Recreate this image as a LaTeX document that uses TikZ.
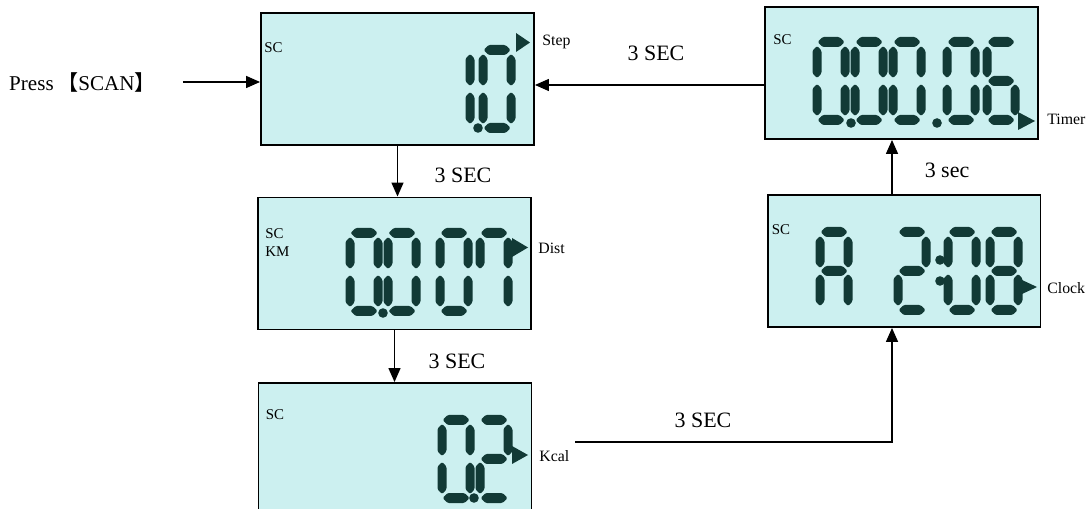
\documentclass[tikz,border=0pt]{standalone}
\usepackage{fontspec}
\setmainfont{Liberation Serif}
\newfontfamily\cjk{Noto Sans CJK SC}
\usetikzlibrary{positioning, arrows.meta}

\definecolor{lcdbg}{RGB}{204,240,240}
\definecolor{lcdon}{RGB}{18,58,54}

% one segment: horizontal (x1,x2,y) and vertical (x,y1,y2)
\newcommand{\lcdh}[3]{\fill[lcdon, rounded corners=0.8pt] (#1,#3) -- (#1+5,#3-5) -- (#2-5,#3-5) -- (#2,#3) -- (#2-5,#3+5) -- (#1+5,#3+5) -- cycle;}
\newcommand{\lcdv}[3]{\fill[lcdon, rounded corners=0.8pt] (#1,#2) -- (#1+4.5,#2+4.5) -- (#1+4.5,#3-4.5) -- (#1,#3) -- (#1-4.5,#3-4.5) -- (#1-4.5,#2+4.5) -- cycle;}
\newcommand{\lcdsega}{\lcdh{0.5}{27.5}{0}}
\newcommand{\lcdsegb}{\lcdv{28}{4}{36}}
\newcommand{\lcdsegc}{\lcdv{28}{42}{74}}
\newcommand{\lcdsegd}{\lcdh{0.5}{27.5}{78}}
\newcommand{\lcdsege}{\lcdv{0}{42}{74}}
\newcommand{\lcdsegf}{\lcdv{0}{4}{36}}
\newcommand{\lcdsegg}{\lcdh{0.5}{27.5}{39}}
% digit with its top left corner at (x,y)
\newcommand{\lcddigit}[3]{\begin{scope}[shift={(#1,#2)}]\foreach \s in {#3}{\csname lcdseg\s\endcsname}\end{scope}}
\newcommand{\lcddot}[2]{\fill[lcdon] (#1,#2) circle (4.8);}

\begin{document}
\begin{tikzpicture}[
    x=0.02cm, y=-0.02cm,
    >={Triangle[length=0.28cm, width=0.24cm]},
    lcdbox/.style={
        draw,
        line width=1.1pt,
        fill=lcdbg,
        minimum width=5.46cm,
        minimum height=2.64cm,
        inner sep=0pt
    },
    flow/.style={->, line width=0.8pt},
    delay/.style={font=\fontsize{12.5}{14}\selectfont},
    mode/.style={font=\fontsize{9}{10}\selectfont, anchor=west, inner sep=0pt},
    tag/.style={font=\fontsize{8.5}{10}\selectfont, anchor=west, inner sep=0pt, align=left}
]
\useasboundingbox (0,0) rectangle (1088,509);

% displays
\node[lcdbox] (step) at (397.5,79) {};
\node[lcdbox] (dist) at (394.5,263.5) {};
\node[lcdbox] (kcal) at (395,449) {};
\node[lcdbox] (timer) at (901.5,73) {};
\node[lcdbox] (clock) at (904,261) {};

% texts inside the displays
\node[tag] (stepsc) at ([shift={(4,36)}]step.north west) {SC};
\node[tag] (distsc) at ([shift={(8,46)}]dist.north west) {SC\\KM};
\node[tag] (kcalsc) at ([shift={(8,33)}]kcal.north west) {SC};
\node[tag] (timersc) at ([shift={(9,34)}]timer.north west) {SC};
\node[tag] (clocksc) at ([shift={(5,36)}]clock.north west) {SC};

% digits
\lcddigit{442}{50}{b,c}
\lcddot{478}{128}
\lcddigit{483}{50}{a,b,c,d,e,f}
\fill[lcdon] (516,33) -- (516,52) -- (530,42.5) -- cycle;

\lcddigit{350}{233}{a,b,c,d,e,f}
\lcddot{383}{313}
\lcddigit{388}{233}{a,b,c,d,e,f}
\lcddigit{440}{233}{a,b,c,d,e,f}
\lcddigit{480}{233}{a,b,c,f}
\fill[lcdon] (512,238) -- (512,257) -- (528,247.5) -- cycle;

\lcddigit{442}{420}{a,b,c,d,e,f}
\lcddot{474}{498}
\lcddigit{480}{420}{a,b,g,e,d}
\fill[lcdon] (512,446) -- (512,464) -- (528,455) -- cycle;

\lcddigit{817}{42}{a,b,c,d,e,f}
\lcddot{851}{123}
\lcddigit{855}{42}{a,b,c,d,e,f}
\lcddigit{893}{42}{a,b,c,d,e,f}
\lcddot{937}{123}
\lcddigit{947}{42}{a,b,c,d,e,f}
\lcddigit{987}{42}{a,c,d,e,f,g}
\fill[lcdon] (1018,112) -- (1018,130) -- (1035,121) -- cycle;

\lcddigit{820}{232}{a,b,c,e,f,g}
\lcddigit{898}{232}{a,b,d,e,g}
\lcddot{940}{260}
\lcddot{940}{281}
\lcddigit{948}{232}{a,b,c,d,e,f}
\lcddigit{990}{232}{a,b,c,d,e,f,g}
\fill[lcdon] (1022,280) -- (1022,294) -- (1037,287) -- cycle;

% mode names
\node[mode] (steplbl) at (542,42) {Step};
\node[mode] (distlbl) at (538,248) {Dist};
\node[mode] (kcallbl) at (539,456) {Kcal};
\node[mode] (timerlbl) at (1047,119) {Timer};
\node[mode] (clocklbl) at (1047,288) {Clock};

% start
\node[font=\fontsize{12}{14}\selectfont, anchor=west] (press) at (3,82) {Press\,{\cjk 【}SCAN{\cjk 】}};

% transitions
\coordinate (kcalout) at (575,442);
\coordinate (turn) at (892,442);
\coordinate (backin) at ([shift={(0,12)}]timer.west);
\draw[flow, shorten <=0.42cm] (press.east) -- (press.east -| step.west);
\draw[flow] (step.south) -- (step.south |- dist.north);
\draw[flow] (dist.south) -- (dist.south |- kcal.north);
\draw[flow] (kcalout) -- (turn) -- (turn |- clock.south);
\draw[flow] (turn |- clock.north) -- (turn |- timer.south);
\draw[flow] (backin) -- (backin -| step.east);

% delays
\node[delay] (d1) at (463,175) {3 SEC};
\node[delay] (d2) at (457,361) {3 SEC};
\node[delay] (d3) at (703,420) {3 SEC};
\node[delay] (d4) at (947,170) {3 sec};
\node[delay] (d5) at (656,53) {3 SEC};
\end{tikzpicture}
\end{document}
